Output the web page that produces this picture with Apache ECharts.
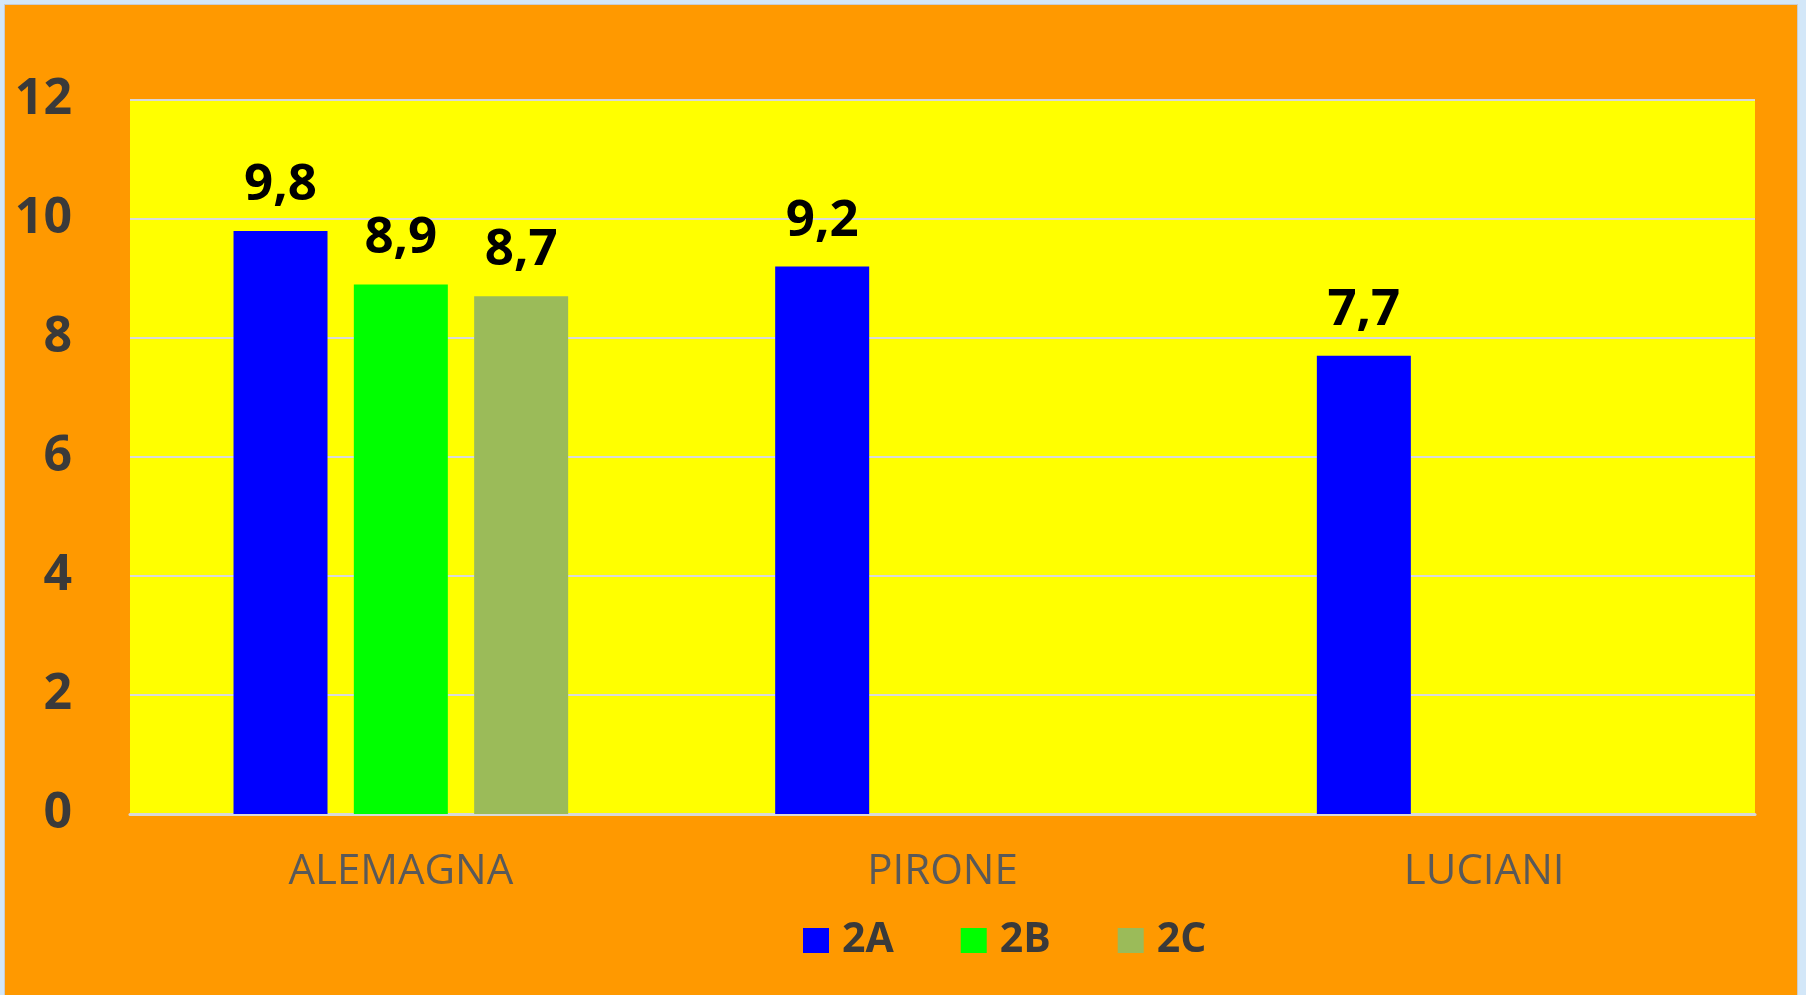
<!DOCTYPE html>
<html>
<head>
<meta charset="utf-8">
<script src="https://cdn.jsdelivr.net/npm/echarts@6/dist/echarts.min.js"></script>
<style>
  html, body { margin: 0; padding: 0; background: #d3e7f8; }
  #chart {
    position: absolute;
    left: 5px;
    top: 5px;
    width: 1792px;
    height: 990px;
    background: #ff9900;
    box-shadow: 0 0 0 1px #c9ccd0;
  }
</style>
</head>
<body>
<div id="chart"></div>
<script>
const categories = ['ALEMAGNA', 'PIRONE', 'LUCIANI'];
const seriesNames = ['2A', '2B', '2C'];
const values2A = [9.8, 9.2, 7.7];
const values2B = [8.9, null, null];
const values2C = [8.7, null, null];
const colors = ['#0000ff', '#00ff00', '#9bbb59'];

const chart = echarts.init(document.getElementById('chart'));

const makeSeries = (name, data, color) => ({
  name,
  type: 'bar',
  data,
  barWidth: 94,
  barGap: '28%',
  itemStyle: { color },
  label: {
    show: true,
    position: 'top',
    distance: 20,
    formatter: p => String(p.value).replace('.', ','),
    fontFamily: 'Open Sans',
    fontWeight: 'bold',
    fontSize: 51,
    color: '#000'
  }
});

chart.setOption({
  animation: false,
  grid: {
    left: 125, right: 42, top: 95, bottom: 181,
    show: true, backgroundColor: '#ffff00', borderWidth: 0
  },
  legend: {
    left: 793,
    top: 910,
    icon: 'rect',
    itemWidth: 26,
    itemHeight: 25,
    itemGap: 67,
    data: seriesNames,
    textStyle: {
      fontFamily: 'Open Sans',
      fontWeight: 'bold',
      fontSize: 41,
      color: '#3a3a3a',
      padding: [0, 0, 0, 8]
    }
  },
  xAxis: {
    type: 'category',
    data: categories,
    axisLine: { lineStyle: { color: '#d9d9d9', width: 3 } },
    axisTick: { show: false },
    axisLabel: {
      margin: 37,
      fontFamily: 'Open Sans',
      fontSize: 42,
      color: '#595959'
    }
  },
  yAxis: {
    type: 'value',
    min: 0,
    max: 12,
    interval: 2,
    axisLine: { show: false },
    axisTick: { show: false },
    splitLine: { lineStyle: { color: '#d9d9d9', width: 2 } },
    axisLabel: {
      margin: 58,
      fontFamily: 'Open Sans',
      fontWeight: 'bold',
      fontSize: 50,
      color: '#3a3a3a'
    }
  },
  series: [
    makeSeries(seriesNames[0], values2A, colors[0]),
    makeSeries(seriesNames[1], values2B, colors[1]),
    makeSeries(seriesNames[2], values2C, colors[2])
  ]
});
</script>
</body>
</html>
